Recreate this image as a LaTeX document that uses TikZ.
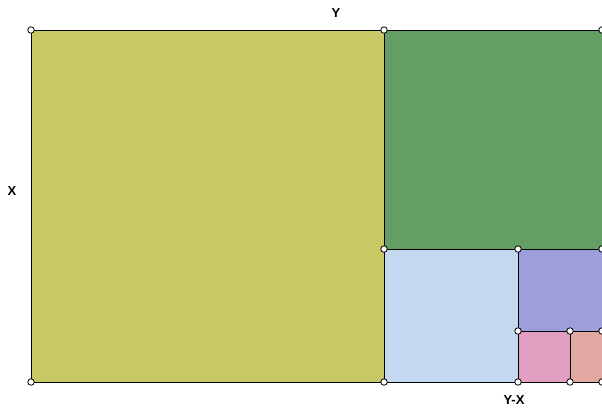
\documentclass[tikz,border=0pt]{standalone}
\usepackage{fontspec}
\setmainfont{Liberation Sans}
\definecolor{cyel}{RGB}{200,200,100}
\definecolor{cgrn}{RGB}{100,158,100}
\definecolor{cblu}{RGB}{196,216,240}
\definecolor{cpur}{RGB}{158,158,218}
\definecolor{cpnk}{RGB}{226,158,192}
\definecolor{cred}{RGB}{226,168,162}
\begin{document}
\begin{tikzpicture}[x=1pt,y=-1pt,
  vtx/.style={circle,draw=black,fill=white,line width=0.8pt,inner sep=0pt,minimum size=6.5pt},
  edge/.style={draw=black,line width=1pt},
  lbl/.style={font=\bfseries\fontsize{13}{13}\selectfont,inner sep=0pt}]
\useasboundingbox (0,0) rectangle (602,408);
\clip (0,0) rectangle (602,408);
% coordinates
\coordinate (a1) at (31,30);
\coordinate (a2) at (384,30);
\coordinate (a3) at (602,30);
\coordinate (b1) at (384,249);
\coordinate (b2) at (518,249);
\coordinate (b3) at (602,249);
\coordinate (c1) at (518,331);
\coordinate (c2) at (570,331);
\coordinate (c3) at (602,331);
\coordinate (d0) at (31,382);
\coordinate (d1) at (384,382);
\coordinate (d2) at (518,382);
\coordinate (d3) at (570,382);
\coordinate (d4) at (602,382);
% fills
\fill[cyel] (a1) rectangle (d1);
\fill[cgrn] (a2) rectangle (b3);
\fill[cblu] (b1) rectangle (d2);
\fill[cpur] (b2) rectangle (c3);
\fill[cpnk] (c1) rectangle (d3);
\fill[cred] (c2) rectangle (d4);
% edges
\draw[edge] (a1) -- (a3) -- (d4) -- (d0) -- cycle;
\draw[edge] (a2) -- (d1);
\draw[edge] (b1) -- (b3);
\draw[edge] (b2) -- (d2);
\draw[edge] (c1) -- (c3);
\draw[edge] (c2) -- (d3);
% vertices
\foreach \p in {a1,a2,a3,b1,b2,b3,c1,c2,c3,d0,d1,d2,d3,d4}
  \node[vtx] (v\p) at (\p) {};
% labels
\node[lbl] (ly) at (336,13) {Y};
\node[lbl] (lx) at (12,191) {X};
\node[lbl] (lyx) at (514,400) {Y-X};
\end{tikzpicture}
\end{document}
